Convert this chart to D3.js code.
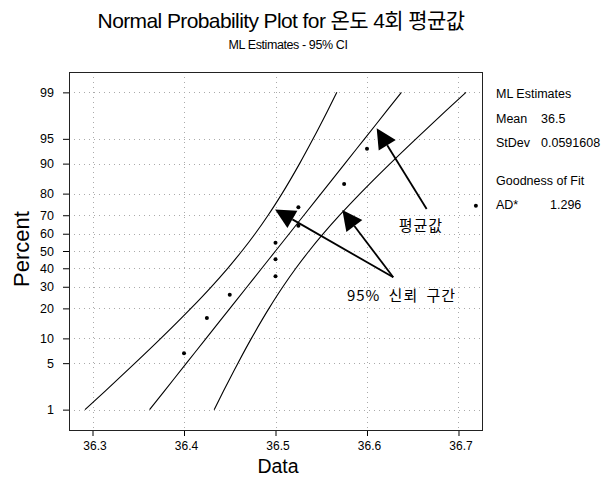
<!DOCTYPE html>
<html lang="ko">
<head>
<meta charset="UTF-8">
<title>Normal Probability Plot for 온도 4회 평균값</title>
<style>
  * { margin: 0; padding: 0; }
  body { background: #fff; }
  text { font-family: "Liberation Sans", Arial, "Noto Sans CJK KR", sans-serif; }
</style>
</head>
<body>
<div id="chart"></div>
<script src="https://cdn.jsdelivr.net/npm/d3@7"></script>
<script>
// 온도 4회 평균값 (10 samples) and their plotting positions (%)
const dataValues = [36.4, 36.425, 36.45, 36.5, 36.5, 36.5, 36.525, 36.525, 36.575, 36.6]
const dataPercents = [6.7, 16.3, 26.0, 35.6, 45.2, 54.8, 64.4, 74.0, 83.7, 93.3]
// lone dot near right frame edge
const strayValues = [36.719]
const strayPercents = [74.7]

// fitted line and 95% CI curves, read at these percent levels
const curvePercents = [1, 2, 5, 10, 20, 30, 40, 50, 60, 70, 80, 90, 95, 98, 99]
const fitValues = [36.36237, 36.37850, 36.40269, 36.42418, 36.45021, 36.46898, 36.48502, 36.5,
  36.51499, 36.53102, 36.54979, 36.57582, 36.59731, 36.62150, 36.63763]
const lowerValues = [36.29178, 36.31385, 36.34644, 36.37470, 36.40754, 36.42987, 36.44776, 36.46333,
  36.47773, 36.49192, 36.50712, 36.52633, 36.54107, 36.55685, 36.56704]
const upperValues = [36.43296, 36.44315, 36.45893, 36.47367, 36.49288, 36.50808, 36.52227, 36.53667,
  36.55224, 36.57013, 36.59246, 36.62530, 36.65356, 36.68615, 36.70822]

const xTicks = [36.3, 36.4, 36.5, 36.6, 36.7]
const yTicks = [1, 5, 10, 20, 30, 40, 50, 60, 70, 80, 90, 95, 99]

const statLabels = ['Mean', 'StDev']
const statValues = ['36.5', '0.0591608']
const fitLabels = ['AD*']
const fitStats = ['1.296']

// inverse normal cdf (Acklam)
function probit(p) {
  const a = [-3.969683028665376e+01, 2.209460984245205e+02, -2.759285104469687e+02, 1.383577518672690e+02, -3.066479806614716e+01, 2.506628277459239e+00]
  const b = [-5.447609879822406e+01, 1.615858368580409e+02, -1.556989798598866e+02, 6.680131188771972e+01, -1.328068155288572e+01]
  const c = [-7.784894002430293e-03, -3.223964580411365e-01, -2.400758277161838e+00, -2.549732539343734e+00, 4.374664141464968e+00, 2.938163982698783e+00]
  const d = [7.784695709041462e-03, 3.224671290700398e-01, 2.445134137142996e+00, 3.754408661907416e+00]
  const pl = 0.02425
  let q, r
  if (p < pl) {
    q = Math.sqrt(-2 * Math.log(p))
    return (((((c[0] * q + c[1]) * q + c[2]) * q + c[3]) * q + c[4]) * q + c[5]) / ((((d[0] * q + d[1]) * q + d[2]) * q + d[3]) * q + 1)
  }
  if (p > 1 - pl) {
    q = Math.sqrt(-2 * Math.log(1 - p))
    return -(((((c[0] * q + c[1]) * q + c[2]) * q + c[3]) * q + c[4]) * q + c[5]) / ((((d[0] * q + d[1]) * q + d[2]) * q + d[3]) * q + 1)
  }
  q = p - 0.5
  r = q * q
  return (((((a[0] * r + a[1]) * r + a[2]) * r + a[3]) * r + a[4]) * r + a[5]) * q / (((((b[0] * r + b[1]) * r + b[2]) * r + b[3]) * r + b[4]) * r + 1)
}

const width = 604
const height = 484
const margin = { top: 72, right: 122, bottom: 54, left: 69 }

const svg = d3.select('#chart')
  .append('svg')
  .attr('width', width)
  .attr('height', height)
  .style('background', '#fff')

const x = d3.scaleLinear()
  .domain([36.2743, 36.7257])
  .range([margin.left, width - margin.right])

const z = d3.scaleLinear()
  .domain([-2.625, 2.625])
  .range([height - margin.bottom, margin.top])

const y = p => z(probit(p / 100))

// grid
const grid = svg.append('g')
  .attr('stroke', '#aaa')
  .attr('stroke-width', 1)
  .attr('stroke-dasharray', '1,4')

grid.selectAll('line.vg')
  .data(xTicks)
  .join('line')
  .attr('class', 'vg')
  .attr('x1', d => Math.round(x(d)) + 0.5)
  .attr('x2', d => Math.round(x(d)) + 0.5)
  .attr('y1', margin.top)
  .attr('y2', height - margin.bottom)

grid.selectAll('line.hg')
  .data(yTicks)
  .join('line')
  .attr('class', 'hg')
  .attr('x1', margin.left)
  .attr('x2', width - margin.right)
  .attr('y1', d => Math.round(y(d)) + 0.5)
  .attr('y2', d => Math.round(y(d)) + 0.5)

// axes
const xAxis = svg.append('g')
  .attr('transform', `translate(0, ${height - margin.bottom})`)
  .call(d3.axisBottom(x).tickValues(xTicks).tickSize(6).tickSizeOuter(0).tickPadding(5).tickFormat(d3.format('.1f')))
xAxis.select('.domain').remove()
xAxis.selectAll('text').style('font-size', '12px').attr('fill', '#000').attr('dx', 2)

const yAxis = svg.append('g')
  .attr('transform', `translate(${margin.left}, 0)`)
  .call(d3.axisLeft(z).tickValues(yTicks.map(p => probit(p / 100))).tickSize(6).tickSizeOuter(0).tickPadding(9)
    .tickFormat((d, i) => yTicks[i]))
yAxis.select('.domain').remove()
yAxis.selectAll('text').style('font-size', '12.5px').attr('fill', '#000')

// frame
svg.append('rect')
  .attr('x', margin.left + 0.5)
  .attr('y', margin.top + 0.5)
  .attr('width', width - margin.left - margin.right)
  .attr('height', height - margin.top - margin.bottom)
  .attr('fill', 'none')
  .attr('stroke', '#222')

// fitted line and CI curves
const curveLine = d3.line()
  .x(d => x(d[0]))
  .y(d => y(d[1]))
  .curve(d3.curveMonotoneY)

const curves = [fitValues, lowerValues, upperValues]
svg.append('g')
  .selectAll('path')
  .data(curves)
  .join('path')
  .attr('d', vals => curveLine(vals.map((v, i) => [v, curvePercents[i]])))
  .attr('fill', 'none')
  .attr('stroke', '#000')
  .attr('stroke-width', 1.1)

// points
svg.append('g')
  .selectAll('circle')
  .data(dataValues.map((v, i) => [v, dataPercents[i]]).concat(strayValues.map((v, i) => [v, strayPercents[i]])))
  .join('circle')
  .attr('cx', d => x(d[0]))
  .attr('cy', d => y(d[1]))
  .attr('r', 2)
  .attr('fill', '#000')

// annotation arrows (in data coordinates)
const arrows = [
  { tip: [36.6106, 96.4], tail: [36.6652, 73.1] },
  { tip: [36.4995, 72.9], tail: [36.6287, 35.0] },
  { tip: [36.5730, 72.6], tail: [36.6287, 35.0] }
]
const headLen = 20
const headHalf = 10

const arrowG = svg.append('g')
arrows.forEach(a => {
  const tx = x(a.tip[0]), ty = y(a.tip[1])
  const sx = x(a.tail[0]), sy = y(a.tail[1])
  const len = Math.hypot(tx - sx, ty - sy)
  const ux = (tx - sx) / len, uy = (ty - sy) / len
  const bx = tx - ux * headLen, by = ty - uy * headLen
  arrowG.append('line')
    .attr('x1', sx).attr('y1', sy)
    .attr('x2', bx).attr('y2', by)
    .attr('stroke', '#000')
    .attr('stroke-width', 1.8)
  arrowG.append('polygon')
    .attr('points', [
      [tx, ty],
      [bx - uy * headHalf, by + ux * headHalf],
      [bx + uy * headHalf, by - ux * headHalf]
    ].map(p => p.join(',')).join(' '))
    .attr('fill', '#000')
})

svg.append('text')
  .attr('x', x(36.659))
  .attr('y', y(63.8))
  .attr('text-anchor', 'middle')
  .attr('dominant-baseline', 'middle')
  .style('font-family', '"Noto Sans CJK KR", sans-serif')
  .style('font-size', '15px')
  .style('letter-spacing', '1px')
  .text('평균값')

svg.append('text')
  .attr('x', x(36.5781))
  .attr('y', y(25.0))
  .attr('dominant-baseline', 'middle')
  .style('font-family', '"Noto Sans CJK KR", sans-serif')
  .style('font-size', '15px')
  .style('letter-spacing', '1px')
  .style('word-spacing', '3px')
  .text('95% 신뢰 구간')

// titles
svg.append('text')
  .attr('x', 281)
  .attr('y', 28)
  .attr('text-anchor', 'middle')
  .style('font-size', '21px')
  .style('letter-spacing', '-0.6px')
  .text('Normal Probability Plot for 온도 4회 평균값')

svg.append('text')
  .attr('x', 288)
  .attr('y', 49)
  .attr('text-anchor', 'middle')
  .style('font-size', '12.5px')
  .style('letter-spacing', '-0.4px')
  .text('ML Estimates - 95% CI')

svg.append('text')
  .attr('transform', 'translate(29, 249) rotate(-90)')
  .attr('text-anchor', 'middle')
  .style('font-size', '22px')
  .text('Percent')

svg.append('text')
  .attr('x', 278)
  .attr('y', 473)
  .attr('text-anchor', 'middle')
  .style('font-size', '19.5px')
  .text('Data')

// estimates panel
const panel = svg.append('g').style('font-size', '12.5px')
panel.append('text').attr('x', 496).attr('y', 98).text('ML Estimates')
panel.selectAll('text.stat-label')
  .data(statLabels)
  .join('text')
  .attr('class', 'stat-label')
  .attr('x', 496)
  .attr('y', (d, i) => 123 + i * 24)
  .text(d => d)
panel.selectAll('text.stat-value')
  .data(statValues)
  .join('text')
  .attr('class', 'stat-value')
  .attr('x', 541)
  .attr('y', (d, i) => 123 + i * 24)
  .text(d => d)
panel.append('text').attr('x', 496).attr('y', 185).text('Goodness of Fit')
panel.selectAll('text.fit-label')
  .data(fitLabels)
  .join('text')
  .attr('class', 'fit-label')
  .attr('x', 496)
  .attr('y', 209)
  .text(d => d)
panel.selectAll('text.fit-value')
  .data(fitStats)
  .join('text')
  .attr('class', 'fit-value')
  .attr('x', 550)
  .attr('y', 209)
  .text(d => d)
</script>
</body>
</html>
